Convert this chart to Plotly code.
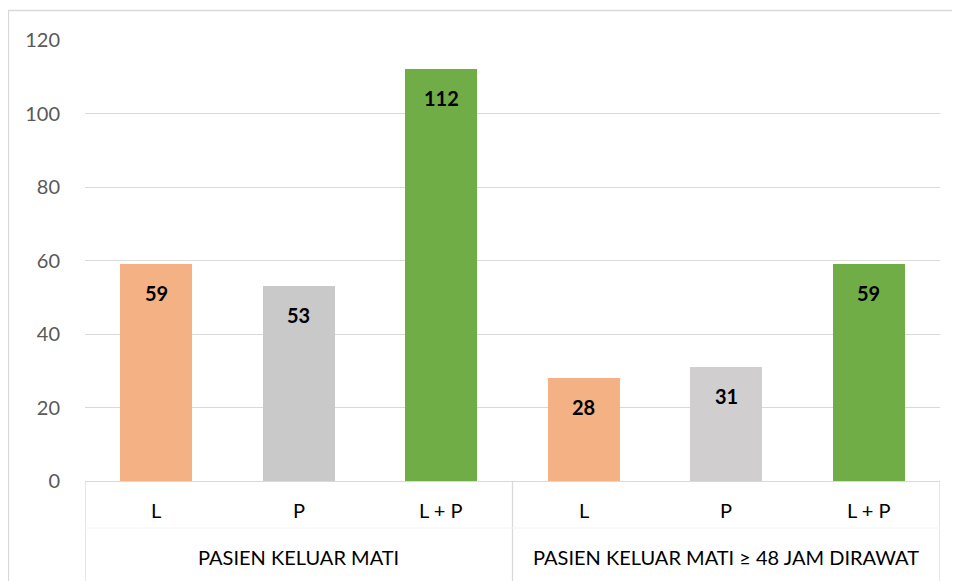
import plotly.graph_objects as go

groups = ["PASIEN KELUAR MATI", "PASIEN KELUAR MATI ≥ 48 JAM DIRAWAT"]
subcats = ["L", "P", "L + P"]
values = [59, 53, 112, 28, 31, 59]
colors = ["#F4B183", "#C9C9C9", "#70AD47", "#F4B183", "#D0CECE", "#70AD47"]
yticks = [0, 20, 40, 60, 80, 100, 120]

# page puts the figure at an 8px offset
W, H = 952, 573
L, R, T, B = 77, 20, 32, 100
plot_h = H - T - B
plot_w = W - L - R

xs = list(range(len(values)))
sub_labels = subcats * len(groups)

fig = go.Figure()
fig.add_trace(go.Bar(
    x=xs, y=values, width=0.505,
    marker=dict(color=colors, line=dict(width=0)),
    hoverinfo="skip",
))

annotations = []
for x, v in zip(xs, values):
    annotations.append(dict(x=x, y=v, xref="x", yref="y", text=f"<b>{v}</b>",
                            showarrow=False, yshift=-29, yanchor="middle",
                            font=dict(size=20, color="#000000", family="Lato")))
for x, s in zip(xs, sub_labels):
    annotations.append(dict(x=x, y=-29 / plot_h, xref="x", yref="paper", text=s,
                            showarrow=False, yanchor="middle",
                            font=dict(size=20, color="#000000", family="Lato")))
for gi, g in enumerate(groups):
    cx = gi * len(subcats) + (len(subcats) - 1) / 2
    annotations.append(dict(x=cx, y=-76 / plot_h, xref="x", yref="paper", text=g,
                            showarrow=False, yanchor="middle",
                            font=dict(size=20, color="#000000", family="Lato")))

shapes = []
# outer chart border
shapes.append(dict(type="rect", xref="paper", yref="paper",
                   x0=(0.5 - L) / plot_w, x1=(W + 20 - L) / plot_w,
                   y0=-(B + 20) / plot_h, y1=(plot_h + T - 2.5) / plot_h,
                   line=dict(color="#D9D9D9", width=1.3), layer="below"))
# group dividers below axis
for xd in [-0.5, 2.5, 5.5]:
    shapes.append(dict(type="line", xref="x", yref="paper", x0=xd, x1=xd,
                       y0=0, y1=-(B + 10) / plot_h,
                       line=dict(color="#D9D9D9", width=1.3)))
# faint separator between label rows
shapes.append(dict(type="line", xref="x", yref="paper", x0=-0.5, x1=5.5,
                   y0=-47 / plot_h, y1=-47 / plot_h,
                   line=dict(color="#F4F4F4", width=1)))

fig.update_layout(
    width=W, height=H,
    margin=dict(l=L, r=R, t=T, b=B),
    paper_bgcolor="white", plot_bgcolor="white",
    showlegend=False,
    bargap=0,
    font=dict(family="Lato", color="#595959"),
    xaxis=dict(range=[-0.5, 5.5], showticklabels=False, showgrid=False,
               zeroline=False, showline=True, linecolor="#D9D9D9", linewidth=1.3,
               fixedrange=True),
    yaxis=dict(range=[0, 120], tickvals=yticks, showgrid=True,
               gridcolor="#D9D9D9", gridwidth=1.3, zeroline=False, showline=False,
               tickfont=dict(size=20, color="#595959", family="Lato"),
               ticks="outside", ticklen=20, tickcolor="rgba(0,0,0,0)",
               fixedrange=True),
    annotations=annotations,
    shapes=shapes,
)

fig.write_html("out.html")
